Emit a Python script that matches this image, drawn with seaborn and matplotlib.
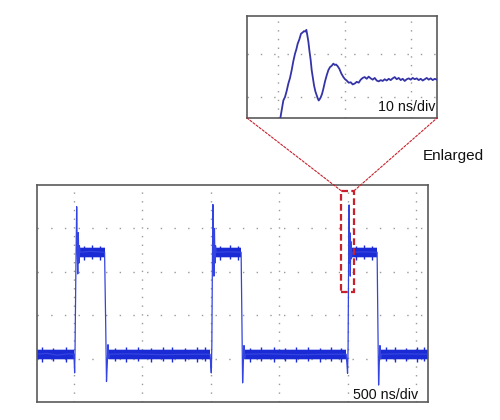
import matplotlib
matplotlib.use("Agg")
import matplotlib.pyplot as plt
from matplotlib.patches import Rectangle, ConnectionPatch
import seaborn as sns
import pandas as pd

# ---------------- data ----------------
# main trace: time in ns (500 ns/div), level in divisions (0 = bottom)
main_t = [-270, -200, -120, -40,
          0, 3, 5, 8, 14, 20, 24, 28, 32, 36, 40, 45, 120, 224, 232, 238, 244, 249, 254, 258,
          400, 640, 880,
          995, 1000, 1004, 1008, 1012, 1016, 1020, 1023, 1027, 1031, 1035, 1040, 1130, 1222, 1228, 1233, 1238, 1243, 1248, 1252,
          1400, 1650, 1850,
          1990, 1996, 2000, 2004, 2008, 2011, 2014, 2017, 2020, 2024, 2028, 2034, 2120, 2216, 2222, 2227, 2232, 2237, 2242, 2246,
          2400, 2588]
main_v = [1.10, 1.12, 1.08, 1.11,
          1.10, 0.85, 0.67, 1.20, 3.00, 4.50, 3.60, 2.95, 3.90, 3.20, 3.60, 3.45, 3.47, 3.45, 1.80, 0.47, 0.90, 1.32, 1.00, 1.10,
          1.11, 1.09, 1.10,
          1.10, 0.85, 0.67, 1.30, 3.20, 4.55, 3.70, 2.90, 4.00, 3.20, 3.60, 3.45, 3.46, 3.45, 1.80, 0.44, 0.90, 1.30, 1.00, 1.10,
          1.11, 1.09, 1.10,
          1.10, 0.85, 0.66, 1.30, 3.40, 4.54, 3.20, 3.90, 2.90, 3.70, 3.30, 3.45, 3.46, 3.45, 1.70, 0.39, 0.90, 1.30, 1.00, 1.10,
          1.11, 1.10]

# noise envelope of the flat parts of the main trace
band_start = [-270, 255, 1250, 2244, 38, 1036, 2030]
band_end = [0, 995, 1992, 2588, 224, 1222, 2216]
band_lo = [0.99, 0.99, 0.99, 0.99, 3.34, 3.34, 3.34]
band_hi = [1.20, 1.20, 1.20, 1.20, 3.54, 3.54, 3.54]

# isolated noise peaks sticking out of the bands
spike_t = [-230, -150, -60, 300, 380, 470, 560, 650, 720, 810, 900, 960,
           1290, 1370, 1460, 1540, 1620, 1710, 1800, 1880, 1950, 2280, 2350, 2430, 2510, 2560,
           70, 130, 190, 1070, 1140, 1200, 2060, 2120, 2180]
spike_lo = [0.93, 0.95, 0.92, 0.94, 0.93, 0.95, 0.92, 0.94, 0.93, 0.95, 0.92, 0.94,
            0.93, 0.95, 0.92, 0.94, 0.93, 0.95, 0.92, 0.94, 0.93, 0.94, 0.92, 0.95, 0.93, 0.94,
            3.28, 3.29, 3.27, 3.28, 3.29, 3.27, 3.28, 3.29, 3.27]
spike_hi = [1.26, 1.25, 1.27, 1.25, 1.26, 1.27, 1.25, 1.26, 1.27, 1.25, 1.26, 1.27,
            1.25, 1.26, 1.27, 1.25, 1.26, 1.27, 1.25, 1.26, 1.25, 1.27, 1.26, 1.25, 1.27, 1.26,
            3.60, 3.61, 3.59, 3.60, 3.61, 3.59, 3.60, 3.61, 3.59]

# enlarged rising edge: time in ns (10 ns/div), level in divisions
zoom_t = [0.30, 0.80, 1.05, 1.30, 1.55, 1.80, 2.05, 2.30, 2.55, 2.75, 2.95, 3.20, 3.45, 3.70, 3.90, 4.10, 4.25,
          4.40, 4.55, 4.70, 4.90, 5.05, 5.25, 5.40, 5.60, 5.80, 5.95,
          6.10, 6.25, 6.40, 6.60, 6.80, 7.05, 7.30, 7.55, 7.80, 8.05, 8.30, 8.50, 8.70, 8.95, 9.20, 9.50, 9.80,
          10.05, 10.3, 10.6, 10.9, 11.2, 11.5, 11.8, 12.1, 12.4, 12.7, 13.0, 13.3, 13.6, 13.9, 14.2, 14.5, 14.8,
          15.1, 15.4, 15.7, 16.0, 16.3, 16.6, 16.9, 17.2, 17.5, 17.8, 18.1, 18.4, 18.7, 19.0, 19.3, 19.6,
          19.9, 20.2, 20.5, 20.8, 21.1, 21.4, 21.7, 22.0, 22.3, 22.6, 22.9, 23.2, 23.5, 23.84]
zoom_v = [-0.53, -0.08, 0.00, 0.14, 0.31, 0.44, 0.62, 0.83, 1.00, 1.10, 1.23, 1.33, 1.46, 1.49, 1.52, 1.51, 1.55,
          1.42, 1.28, 1.08, 0.85, 0.62, 0.42, 0.27, 0.13, 0.04, -0.03,
          -0.08, -0.05, -0.01, 0.07, 0.19, 0.36, 0.50, 0.62, 0.69, 0.72, 0.77, 0.74, 0.75, 0.71, 0.65, 0.54, 0.46,
          0.41, 0.38, 0.33, 0.34, 0.29, 0.31, 0.35, 0.33, 0.40, 0.44, 0.46, 0.42, 0.47, 0.43, 0.40, 0.44, 0.38,
          0.36, 0.39, 0.37, 0.41, 0.38, 0.42, 0.39, 0.43, 0.46, 0.41, 0.44, 0.39, 0.42, 0.37, 0.41, 0.43,
          0.40, 0.44, 0.41, 0.43, 0.39, 0.42, 0.38, 0.41, 0.44, 0.40, 0.43, 0.39, 0.42, 0.40]

# region that is enlarged (ns, div)
box_t = [1952, 2049]
box_v = [2.53, 4.87]

main_label = "500 ns/div"
zoom_label = "10 ns/div"
note_label = "Enlarged"

# ---------------- styling ----------------
sns.set_style("white")
plt.rcParams["font.family"] = ["Liberation Sans", "DejaVu Sans"]

MAIN_BLUE = "#1a2ad4"
TRACE_BLUE = "#3344e0"
ZOOM_BLUE = "#3434a8"
RED = "#c8202c"
GRID = "#9a9a9a"
FRAME = "#5a5a5a"

fig = plt.figure(figsize=(5, 4.2), dpi=100)
ax = fig.add_axes([0.074, 0.0429, 0.782, 0.5167])
axz = fig.add_axes([0.494, 0.719, 0.38, 0.243])


def scope_axes(a, xlim, ylim, xt, yt, xdot, ydot):
    a.set_xlim(*xlim)
    a.set_ylim(*ylim)
    a.set_xticks(xt)
    a.set_yticks(yt)
    a.xaxis.grid(True, color=GRID, linewidth=1.0, linestyle=(0, (1, xdot)))
    a.yaxis.grid(True, color=GRID, linewidth=1.0, linestyle=(0, (1, ydot)))
    a.tick_params(length=0, labelbottom=False, labelleft=False)
    for s in a.spines.values():
        s.set_color(FRAME)
        s.set_linewidth(1.2)
    a.set_axisbelow(True)


scope_axes(ax, (-270, 2588), (0, 5), [0, 500, 1000, 1500, 2000, 2500], [1, 2, 3, 4], 5.26, 8.86)
scope_axes(axz, (-4.65, 23.84), (-0.485, 1.87), [0, 10, 20], [0, 1], 5.26, 8.6)

# noise band (soft halo + solid core)
for s, e, lo, hi in zip(band_start, band_end, band_lo, band_hi):
    ax.fill_between([s, e], [lo - 0.03, lo - 0.03], [hi + 0.03, hi + 0.03],
                    color=MAIN_BLUE, alpha=0.3, linewidth=0, zorder=2)
    ax.fill_between([s, e], [lo, lo], [hi, hi], color=MAIN_BLUE, linewidth=0, zorder=2)
ax.vlines(spike_t, spike_lo, spike_hi, color=MAIN_BLUE, linewidth=1.0, zorder=2)

main_df = pd.DataFrame({"t": main_t, "v": main_v})
sns.lineplot(data=main_df, x="t", y="v", ax=ax, sort=False, estimator=None,
             color=TRACE_BLUE, linewidth=0.9, zorder=3)

zoom_df = pd.DataFrame({"t": zoom_t, "v": zoom_v})
sns.lineplot(data=zoom_df, x="t", y="v", ax=axz, sort=False, estimator=None,
             color=ZOOM_BLUE, linewidth=1.3, zorder=3)

for a in (ax, axz):
    a.set_xlabel("")
    a.set_ylabel("")

# red dashed box
ax.add_patch(Rectangle((box_t[0], box_v[0]), box_t[1] - box_t[0], box_v[1] - box_v[0],
                       fill=False, edgecolor=RED, linewidth=1.6, linestyle=(0, (3, 1.5)), zorder=5))

# connecting lines
for bx, ix in ((box_t[0], 0), (box_t[1], 1)):
    cp = ConnectionPatch(xyA=(bx, box_v[1]), coordsA=ax.transData,
                         xyB=(ix, 0), coordsB=axz.transAxes,
                         color=RED, linewidth=0.8, linestyle=(0, (2, 1.5)))
    fig.add_artist(cp)

ax.text(0.974, 0.014, main_label, transform=ax.transAxes, ha="right", va="baseline",
        fontsize=10.3, color="#111111", zorder=6)
axz.text(0.99, 0.07, zoom_label, transform=axz.transAxes, ha="right", va="baseline",
         fontsize=10.3, color="#111111", zorder=6)
fig.text(0.846, 0.619, note_label, ha="left", va="baseline", fontsize=11, color="#111111")

fig.savefig("out.png", dpi=100, facecolor="white")
